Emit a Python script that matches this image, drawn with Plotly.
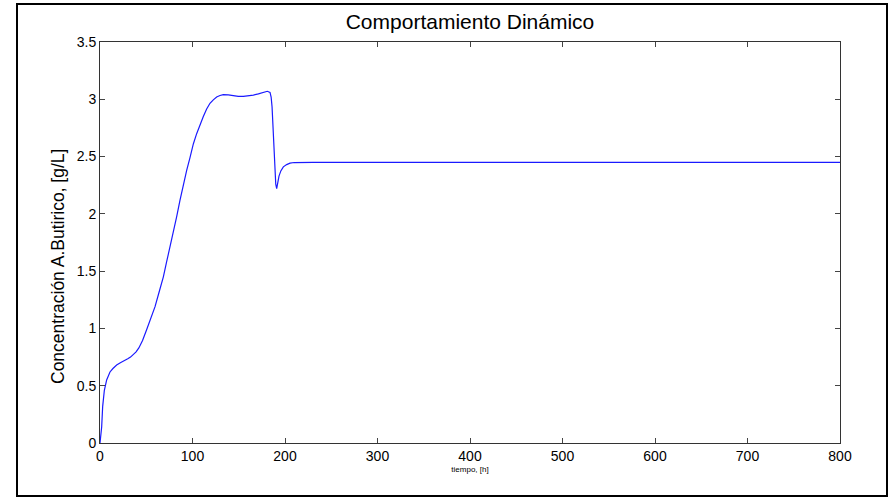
import plotly.graph_objects as go

# Data
tiempo = [0, 1, 1.8, 2.9, 4.7, 7.2, 10.8, 14, 18, 22, 26, 30,
          33, 36, 39, 42, 46, 50.5, 55, 59.5, 64, 68.5, 72, 75.7,
          79.3, 82.9, 86.5, 90.1, 93.7, 97.3, 100.9, 104.5, 108.1, 111.7,
          115.3, 118.9, 122.5, 126.1, 129.7, 133.3, 138.7, 144.1, 149.5, 155,
          160.4, 165.8, 171.2, 176.6, 180.9, 183.8, 185, 186, 187, 188,
          189, 190, 191, 192, 193.5, 195.5, 198.2, 201.8, 205.4, 210,
          216, 230, 800]
butirico = [0, 0.07, 0.14, 0.32, 0.46, 0.55, 0.62, 0.65, 0.68, 0.70, 0.715, 0.735,
            0.75, 0.77, 0.795, 0.83, 0.895, 0.99, 1.09, 1.19, 1.32, 1.45, 1.58, 1.71,
            1.84, 1.975, 2.12, 2.26, 2.38, 2.49, 2.61, 2.70, 2.78, 2.85,
            2.915, 2.965, 2.995, 3.02, 3.033, 3.04, 3.038, 3.03, 3.025, 3.026,
            3.03, 3.037, 3.047, 3.06, 3.07, 3.06, 3.02, 2.935, 2.75, 2.55,
            2.38, 2.26, 2.22, 2.27, 2.33, 2.375, 2.41, 2.43, 2.443, 2.448,
            2.45, 2.45, 2.45]

x_ticks = [0, 100, 200, 300, 400, 500, 600, 700, 800]
y_ticks = [0, 0.5, 1, 1.5, 2, 2.5, 3, 3.5]
y_tick_text = ["0", "0.5", "1", "1.5", "2", "2.5", "3", "3.5"]

FONT = "Arial, Liberation Sans"

fig = go.Figure()
fig.add_trace(go.Scatter(x=tiempo, y=butirico, mode="lines",
                         line=dict(color="#1a1aff", width=1.2), showlegend=False))

axis_common = dict(showgrid=False, zeroline=False, showline=True, linecolor="#333333",
                   linewidth=1, mirror="ticks", ticks="inside", ticklen=5,
                   tickcolor="#444444", tickfont=dict(family=FONT, size=14, color="black"))

fig.update_layout(
    width=894, height=497,
    margin=dict(l=100, r=54, t=42, b=54),
    paper_bgcolor="white", plot_bgcolor="white",
    title=dict(text="Comportamiento Dinámico", x=0.5, xref="paper", xanchor="center",
               y=1 - 22 / 497, yref="container", yanchor="middle",
               font=dict(family=FONT, size=21, color="black")),
    xaxis=dict(range=[0, 800], tickvals=x_ticks,
               title=dict(text="tiempo, [h]", standoff=3,
                          font=dict(family=FONT, size=8, color="black")),
               **axis_common),
    yaxis=dict(range=[0, 3.5], tickvals=y_ticks, ticktext=y_tick_text, **axis_common),
)

# y-axis label (placed as in the reference, slightly below the axis centre)
fig.add_annotation(text="Concentración A.Butirico, [g/L]", xref="paper", yref="paper",
                   x=(58 - 100) / 740, y=(443 - 267) / 401, textangle=-90,
                   showarrow=False, xanchor="center", yanchor="middle",
                   font=dict(family=FONT, size=17.5, color="black"))

# outer frame
fig.add_shape(type="rect", xref="paper", yref="paper",
              x0=(17 - 100) / 740, x1=(887 - 100) / 740,
              y0=(443 - 496) / 401, y1=(443 - 4) / 401,
              line=dict(color="black", width=2), fillcolor="rgba(0,0,0,0)", layer="below")

fig.write_html("out.html")
